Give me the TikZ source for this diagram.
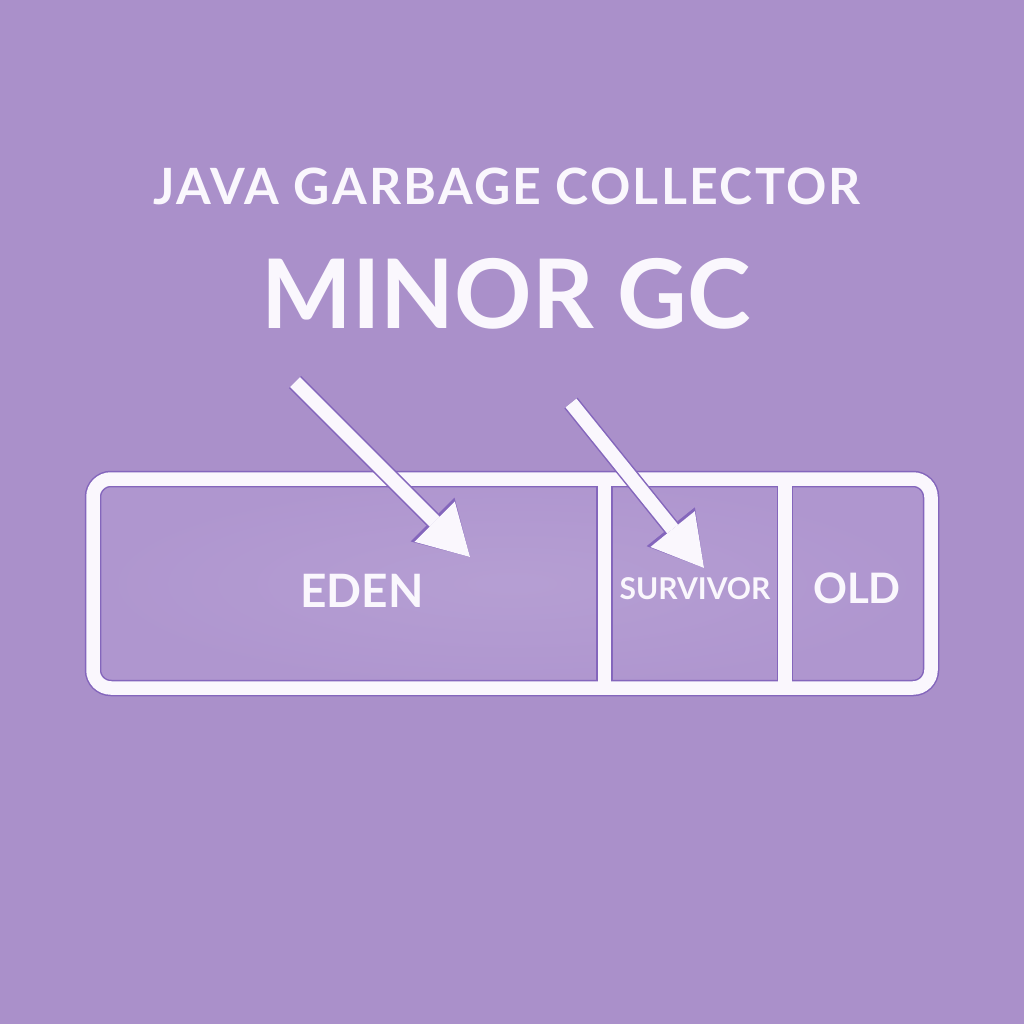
\documentclass[tikz,border=0pt]{standalone}
\usepackage{fontspec}
\setmainfont{Lato}
\newfontfamily\titlefont{Lato}[LetterSpace=4.5]
\usetikzlibrary{arrows.meta}
\definecolor{bg}{HTML}{AA90CA}
\definecolor{inner}{HTML}{AF96CF}
\definecolor{edge}{HTML}{8466BC}
\definecolor{ink}{HTML}{FAF7FD}
\tikzset{
  outerline/.style={draw=edge, line width=16.5pt},
  innerline/.style={draw=ink, line width=13.5pt},
  label/.style={text=ink, font=\bfseries, inner sep=0pt, anchor=base},
  arrowedge/.style={draw=edge, line width=17pt, -{Triangle[length=53pt,width=62pt,line width=0pt]}},
  arrowink/.style={draw=ink, line width=14pt, -{Triangle[length=50pt,width=57pt,line width=0pt]}},
}
\begin{document}
\begin{tikzpicture}[x=1pt,y=-1pt]
\useasboundingbox (0,0) rectangle (1024,1024);
\fill[bg] (0,0) rectangle (1024,1024);
% heap box interior
\shade[inner color=inner!92!white, outer color=inner] (93,479) rectangle (931,688);
% labels
\node[label, font=\titlefont\bfseries\fontsize{50}{50}\selectfont] (title) at (507,205) {JAVA GARBAGE COLLECTOR};
\node[label, font=\bfseries\fontsize{96}{96}\selectfont] (minor) at (506,328) {MINOR GC};
% box
\coordinate (d1t) at (604.5,479);
\coordinate (d1b) at (604.5,688);
\coordinate (d2t) at (785,479);
\coordinate (d2b) at (785,688);
\foreach \s in {outerline,innerline}{
  \draw[\s, rounded corners=18pt] (93,479) rectangle (931,688);
  \draw[\s] (d1t) -- (d1b);
  \draw[\s] (d2t) -- (d2b);
}
\node[label, font=\bfseries\fontsize{46}{46}\selectfont] (eden) at (362,607) {EDEN};
\node[label, font=\bfseries\fontsize{30}{30}\selectfont] (surv) at (695,599) {SURVIVOR};
\node[label, font=\bfseries\fontsize{42}{42}\selectfont] (old) at (857,603) {OLD};
% arrows
\coordinate (a1s) at (295,382);
\coordinate (a1e) at (470,557);
\coordinate (a2s) at (571,403);
\coordinate (a2e) at (704,568);
\draw[arrowedge] (a1s) -- (a1e);
\draw[arrowedge] (a2s) -- (a2e);
\draw[arrowink] (a1s) -- (a1e);
\draw[arrowink] (a2s) -- (a2e);
\end{tikzpicture}
\end{document}
